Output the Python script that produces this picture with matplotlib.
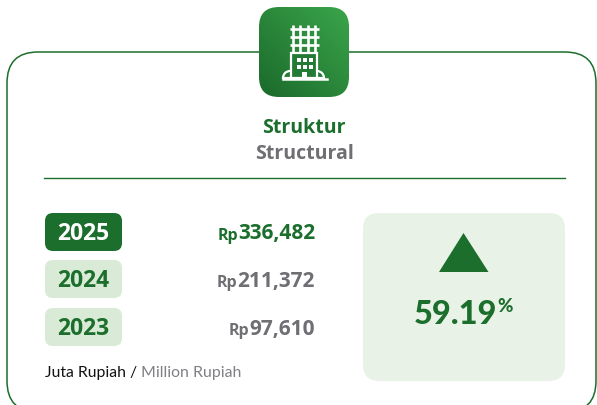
import matplotlib.pyplot as plt
import numpy as np
from matplotlib.patches import FancyBboxPatch, Polygon, Rectangle, Wedge

# datos
years = ['2025', '2024', '2023']
values = ['336,482', '211,372', '97,610']
growth = '59.19'
title_id = 'Struktur'
title_en = 'Structural'
unit_id = 'Juta Rupiah /'
unit_en = 'Million Rupiah'

GREEN = '#1b6e2c'
LIGHT = '#d9ead6'
PANEL = '#e9f2e7'
GREY = '#6f6f73'

plt.rcParams['font.family'] = 'Open Sans'

fig = plt.figure(figsize=(5.97, 4.05), dpi=100)
ax = fig.add_axes([0, 0, 1, 1])
ax.set_xlim(0, 597)
ax.set_ylim(405, 0)
ax.axis('off')


def rbox(x0, y0, x1, y1, r, **kw):
    p = FancyBboxPatch((x0 + r, y0 + r), x1 - x0 - 2 * r, y1 - y0 - 2 * r,
                       boxstyle='round,pad=%f,rounding_size=%f' % (r, r), **kw)
    ax.add_patch(p)
    return p


# tarjeta
rbox(7, 52, 596, 412, 31, fc='white', ec=GREEN, lw=1.1, zorder=1)

# icono con degradado
icon = rbox(259, 7, 349, 97, 20, fc='none', ec='none', zorder=2)
gx, gy = np.meshgrid(np.linspace(0, 1, 90), np.linspace(0, 1, 90))
t = (gx + (1 - gy)) / 2
c0 = np.array([0x1b, 0x6a, 0x2b]) / 255
c1 = np.array([0x3a, 0xa5, 0x4a]) / 255
img = c0 + (c1 - c0) * t[..., None]
im = ax.imshow(img, extent=(259, 349, 97, 7), zorder=2, aspect='auto')
im.set_clip_path(icon)
ax.set_xlim(0, 597)
ax.set_ylim(405, 0)

# edificio
W = 'white'
for x in [293, 300, 308, 315]:
    ax.plot([x, x], [25, 53], color=W, lw=1.9, zorder=3, solid_capstyle='butt')
for y in [29, 37, 45]:
    ax.plot([290, 319], [y, y], color=W, lw=1.9, zorder=3, solid_capstyle='butt')
for cx in [290, 317]:
    ax.add_patch(Wedge((cx, 78), 7, 180, 360, fc='#227a34', ec=W, lw=1.6, zorder=2.5))
ax.add_patch(Rectangle((291, 53), 26, 25, fc='#227a34', ec=W, lw=1.6, zorder=3))
for x in [297, 303, 309]:
    for y in [58, 65]:
        ax.add_patch(Rectangle((x, y), 3.6, 3.6, fc=W, ec='none', zorder=4))
ax.add_patch(Rectangle((302, 72), 5, 6, fc=W, ec='none', zorder=4))
ax.plot([283, 327], [78.5, 78.5], color=W, lw=1.8, zorder=4)

# titulos
ax.text(304, 128, title_id, ha='center', va='center', fontsize=14, fontweight='bold', color=GREEN, zorder=5)
ax.text(304, 154, title_en, ha='center', va='center', fontsize=14, fontweight='bold', color=GREY, zorder=5)
ax.plot([44, 564.5], [177.5, 177.5], color=GREEN, lw=1.0, zorder=5)

# filas de años
rows = [232, 279, 327]
renderer = fig.canvas.get_renderer()
inv = ax.transData.inverted()
for i, (yr, val, yc) in enumerate(zip(years, values, rows)):
    fc = GREEN if i == 0 else LIGHT
    tc = 'white' if i == 0 else GREEN
    rbox(45, yc - 19, 122, yc + 19, 8, fc=fc, ec='none', zorder=3)
    ax.text(83, yc + 2, yr, ha='center', va='center', fontsize=16.5, fontweight='bold', color=tc, zorder=5)
    vc = GREEN if i == 0 else GREY
    tx = ax.text(315, yc + 2, val, ha='right', va='center', fontsize=15, fontweight='bold', color=vc, zorder=5)
    left = inv.transform(tx.get_window_extent(renderer))[0, 0]
    ax.text(left, yc + 4, 'Rp', ha='right', va='center', fontsize=11.5, fontweight='bold', color=vc, zorder=5)

# unidad
t1 = ax.text(45, 372.5, unit_id, ha='left', va='center', fontsize=11.3, family='Lato', color='#111111', zorder=5)
right = inv.transform(t1.get_window_extent(renderer))[1, 0]
ax.text(right + 4, 372.5, unit_en, ha='left', va='center', fontsize=11.4, family='Lato', color='#808084', zorder=5)

# panel derecho
rbox(363, 213, 565, 381, 16, fc=PANEL, ec='none', zorder=3)
ax.add_patch(Polygon([[463.5, 233], [439, 272], [488.5, 272]], closed=True, fc=GREEN, ec='none', zorder=4))
g = ax.text(414, 314, growth, ha='left', va='center', fontsize=23.5, fontweight='black', family='Lato', color=GREEN, zorder=5)
gr = inv.transform(g.get_window_extent(renderer))[1, 0]
ax.text(gr, 307, '%', ha='left', va='center', fontsize=13.5, fontweight='black', family='Lato', color=GREEN, zorder=5)

fig.savefig('out.png', dpi=100)
